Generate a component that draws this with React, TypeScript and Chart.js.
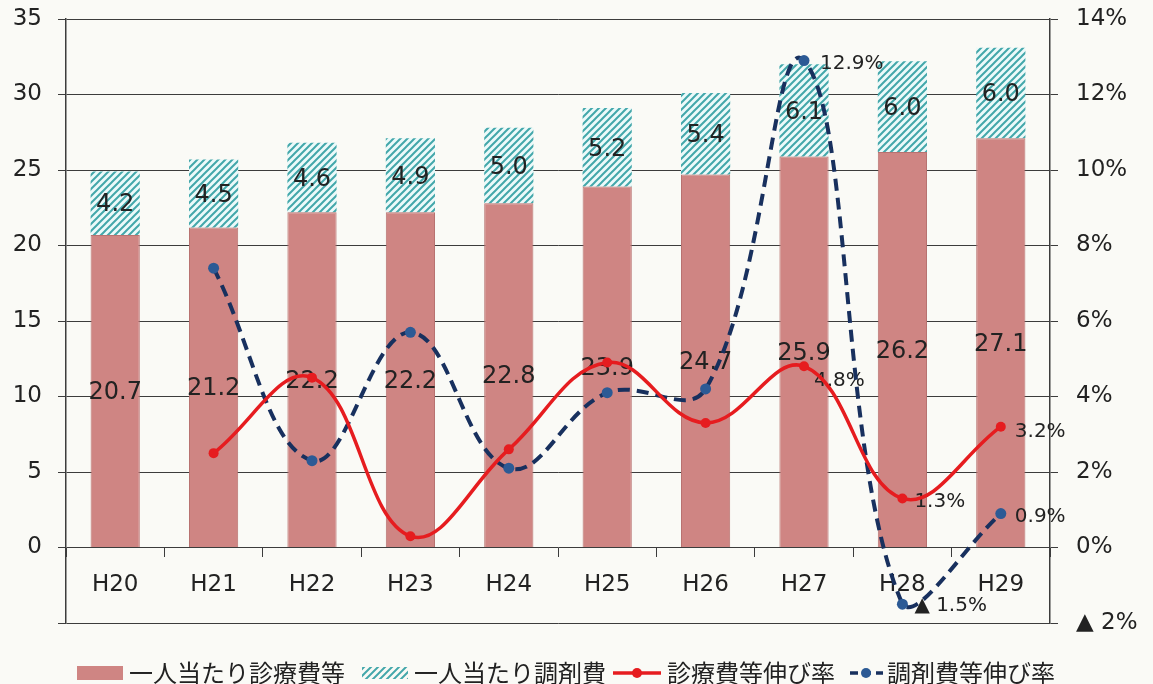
import React, { useEffect, useRef } from 'react';
import { Chart, registerables } from 'chart.js';

Chart.register(...registerables);

const categories = ['H20', 'H21', 'H22', 'H23', 'H24', 'H25', 'H26', 'H27', 'H28', 'H29'];
const medicalCost = [20.7, 21.2, 22.2, 22.2, 22.8, 23.9, 24.7, 25.9, 26.2, 27.1];
const dispensingCost = [4.2, 4.5, 4.6, 4.9, 5.0, 5.2, 5.4, 6.1, 6.0, 6.0];
const medicalGrowth = [null, 2.5, 4.5, 0.3, 2.6, 4.9, 3.3, 4.8, 1.3, 3.2];
const dispensingGrowth = [null, 7.4, 2.3, 5.7, 2.1, 4.1, 4.2, 12.9, -1.5, 0.9];
const seriesNames = ['一人当たり診療費等', '一人当たり調剤費', '診療費等伸び率', '調剤費等伸び率'];
const leftAxis = { min: -5, max: 35, step: 5 };
const rightAxis = { min: -2, max: 14, step: 2 };
const labelledIndices = [7, 8, 9];

const NUM_FONT = '"DejaVu Sans", Verdana, sans-serif';
const CJK_FONT = '"Noto Sans CJK JP", "Noto Sans", sans-serif';
const TEXT = '#222222';
const GRID = '#3c3c3c';
const PINK = '#cf8583';
const RED = '#e61c1f';
const NAVY = '#18305e';
const BLUE_PT = '#2c5a95';
const PAPER = '#fafaf6';
const HATCH_LINE = '#43a7aa';
const HATCH_BG = '#ecfafa';

function pctText(v: number) {
  return v < 0 ? `▲ ${Math.abs(v)}%` : `${v}%`;
}

function makeHatch(ctx: CanvasRenderingContext2D) {
  const s = 7;
  const c = document.createElement('canvas');
  c.width = s;
  c.height = s;
  const g = c.getContext('2d')!;
  g.fillStyle = HATCH_BG;
  g.fillRect(0, 0, s, s);
  g.strokeStyle = HATCH_LINE;
  g.lineWidth = 2;
  g.beginPath();
  g.moveTo(-1, s + 1);
  g.lineTo(s + 1, -1);
  g.moveTo(-2, 2);
  g.lineTo(2, -2);
  g.moveTo(s - 2, s + 2);
  g.lineTo(s + 2, s - 2);
  g.stroke();
  return ctx.createPattern(c, 'repeat')!;
}

const labelPlugin = {
  id: 'customLabels',
  beforeDraw(chart: any) {
    const { ctx, width, height } = chart;
    ctx.save();
    ctx.fillStyle = PAPER;
    ctx.fillRect(0, 0, width, height);
    ctx.restore();
  },
  afterDatasetDraw(chart: any, args: any) {
    if (args.index !== 0) return;
    const { ctx } = chart;
    ctx.save();
    ctx.font = `24px ${NUM_FONT}`;
    ctx.fillStyle = TEXT;
    ctx.textAlign = 'center';
    ctx.textBaseline = 'middle';
    [0, 1].forEach((di) => {
      const meta = chart.getDatasetMeta(di);
      const data = chart.data.datasets[di].data as number[];
      meta.data.forEach((el: any, i: number) => {
        const y = (el.y + el.base) / 2 + 2;
        ctx.fillText(data[i].toFixed(1), el.x, y);
      });
    });
    // line labels
    ctx.font = `20px ${NUM_FONT}`;
    ctx.textAlign = 'left';
    const offsets: Record<string, [number, number][]> = {
      '2': [[10, 14], [12, 3], [14, 5]],
      '3': [[16, 3], [12, 2], [14, 3]],
    };
    [2, 3].forEach((di) => {
      const meta = chart.getDatasetMeta(di);
      const data = chart.data.datasets[di].data as number[];
      labelledIndices.forEach((i, k) => {
        const el = meta.data[i];
        const [dx, dy] = offsets[String(di)][k];
        ctx.fillText(pctText(data[i]), el.x + dx, el.y + dy);
      });
    });
    ctx.restore();
  },
  afterDraw(chart: any) {
    const { ctx } = chart;
    const cy = 673;
    ctx.save();
    ctx.font = `24px ${CJK_FONT}`;
    ctx.fillStyle = TEXT;
    ctx.textAlign = 'left';
    ctx.textBaseline = 'middle';
    // item 1: pink box
    ctx.fillStyle = PINK;
    ctx.fillRect(77, cy - 7, 46, 14);
    ctx.fillStyle = TEXT;
    ctx.fillText(seriesNames[0], 129, cy);
    // item 2: hatched
    ctx.save();
    ctx.beginPath();
    ctx.rect(362, cy - 6, 46, 12);
    ctx.clip();
    ctx.strokeStyle = HATCH_LINE;
    ctx.lineWidth = 2;
    ctx.beginPath();
    for (let x = 350; x < 430; x += 7) {
      ctx.moveTo(x, cy + 8);
      ctx.lineTo(x + 16, cy - 8);
    }
    ctx.stroke();
    ctx.restore();
    ctx.fillText(seriesNames[1], 414, cy);
    // item 3: red line
    ctx.strokeStyle = RED;
    ctx.lineWidth = 3.5;
    ctx.beginPath();
    ctx.moveTo(613, cy);
    ctx.lineTo(661, cy);
    ctx.stroke();
    ctx.fillStyle = RED;
    ctx.beginPath();
    ctx.arc(637, cy, 5, 0, Math.PI * 2);
    ctx.fill();
    ctx.fillStyle = TEXT;
    ctx.fillText(seriesNames[2], 667, cy);
    // item 4: blue dashed
    ctx.strokeStyle = NAVY;
    ctx.lineWidth = 3.5;
    ctx.setLineDash([8, 5]);
    ctx.beginPath();
    ctx.moveTo(850, cy);
    ctx.lineTo(883, cy);
    ctx.stroke();
    ctx.setLineDash([]);
    ctx.fillStyle = BLUE_PT;
    ctx.beginPath();
    ctx.arc(866, cy, 5, 0, Math.PI * 2);
    ctx.fill();
    ctx.fillStyle = TEXT;
    ctx.fillText(seriesNames[3], 887, cy);
    ctx.restore();
  },
};

export default function App() {
  const ref = useRef<HTMLCanvasElement>(null);
  useEffect(() => {
    const canvas = ref.current!;
    const ctx = canvas.getContext('2d')!;
    const hatch = makeHatch(ctx);
    const tickFont = { family: NUM_FONT, size: 23 };
    const chart = new Chart(ctx, {
      type: 'bar',
      data: {
        labels: categories,
        datasets: [
          {
            type: 'bar',
            label: seriesNames[0],
            data: medicalCost,
            backgroundColor: PINK,
            borderColor: '#b87270',
            borderWidth: 1,
            barPercentage: 0.5,
            categoryPercentage: 1,
            yAxisID: 'y',
            order: 2,
          },
          {
            type: 'bar',
            label: seriesNames[1],
            data: dispensingCost,
            backgroundColor: hatch,
            borderWidth: 0,
            barPercentage: 0.5,
            categoryPercentage: 1,
            yAxisID: 'y',
            order: 3,
          },
          {
            type: 'line',
            label: seriesNames[2],
            data: medicalGrowth,
            borderColor: RED,
            borderWidth: 3.5,
            pointRadius: 5,
            pointBackgroundColor: RED,
            pointBorderWidth: 0,
            tension: 0.4,
            yAxisID: 'y1',
            order: 0,
          },
          {
            type: 'line',
            label: seriesNames[3],
            data: dispensingGrowth,
            borderColor: NAVY,
            borderWidth: 4,
            borderDash: [12, 7],
            pointRadius: 5.5,
            pointBackgroundColor: BLUE_PT,
            pointBorderWidth: 0,
            tension: 0.4,
            yAxisID: 'y1',
            order: 1,
          },
        ] as any,
      },
      options: {
        responsive: false,
        maintainAspectRatio: false,
        animation: false,
        layout: { padding: { top: 19, bottom: 61, left: 0, right: 0 } },
        plugins: { legend: { display: false }, tooltip: { enabled: false } },
        scales: {
          x: {
            stacked: true,
            position: { y: 0 } as any,
            grid: {
              display: true,
              drawOnChartArea: false,
              drawTicks: true,
              tickLength: 9,
              color: GRID,
              lineWidth: 1,
              offset: true,
            },
            border: { display: false },
            ticks: { font: tickFont, color: TEXT, padding: 15 },
          },
          y: {
            stacked: true,
            position: 'left',
            min: leftAxis.min,
            max: leftAxis.max,
            ticks: {
              stepSize: leftAxis.step,
              font: tickFont,
              color: TEXT,
              padding: 16,
              callback: (v: any) => (v === leftAxis.min ? '' : String(v)),
            },
            grid: { color: GRID, lineWidth: 1, tickLength: 8, drawTicks: true },
            border: { display: true, color: GRID, width: 1.5 },
            afterFit: (s: any) => {
              s.width = 66;
              s.paddingTop = 0;
              s.paddingBottom = 0;
            },
          },
          y1: {
            position: 'right',
            min: rightAxis.min,
            max: rightAxis.max,
            ticks: {
              stepSize: rightAxis.step,
              font: tickFont,
              color: TEXT,
              padding: 18,
              callback: (v: any) => pctText(Number(v)),
            },
            grid: { drawOnChartArea: false, color: GRID, lineWidth: 1, tickLength: 8, drawTicks: true },
            border: { display: true, color: GRID, width: 1.5 },
            afterFit: (s: any) => {
              s.width = 103;
              s.paddingTop = 0;
              s.paddingBottom = 0;
            },
          },
        },
      },
      plugins: [labelPlugin],
    } as any);
    return () => chart.destroy();
  }, []);
  return (
    <div style={{ position: 'absolute', left: 0, top: 0, width: 1153, height: 684, background: PAPER }}>
      <canvas ref={ref} width={1153} height={684} style={{ display: 'block' }} />
    </div>
  );
}
